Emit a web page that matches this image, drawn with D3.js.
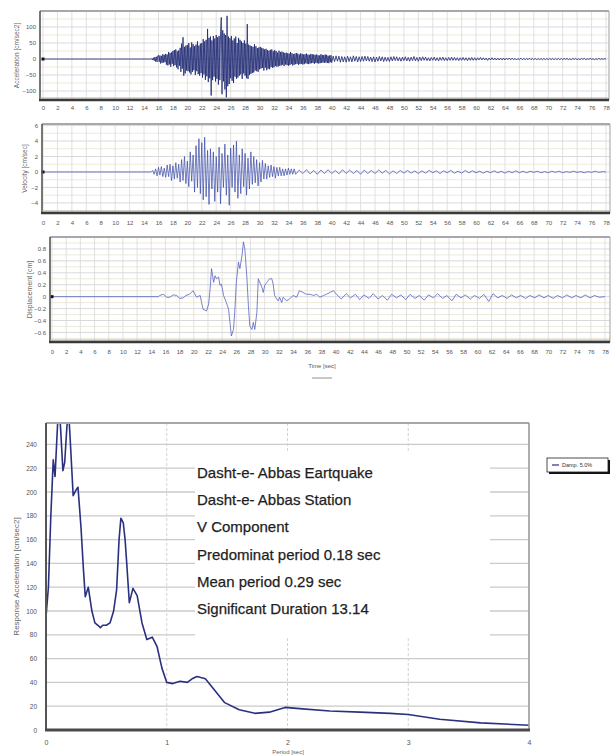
<!DOCTYPE html>
<html>
<head>
<meta charset="utf-8">
<script src="https://cdn.jsdelivr.net/npm/d3@7"></script>
<style>
  html, body { margin: 0; padding: 0; background: #fff; }
  svg { display: block; }
</style>
</head>
<body>
<svg id="chart" width="613" height="756"></svg>
<script>
// ---------------- record data ----------------
// time axis ticks for the three record panels [sec]
const timeTicks = [0, 2, 4, 6, 8, 10, 12, 14, 16, 18, 20, 22, 24, 26, 28, 30, 32, 34, 36, 38,
                   40, 42, 44, 46, 48, 50, 52, 54, 56, 58, 60, 62, 64, 66, 68, 70, 72, 74, 76, 78];

// quiet part of the record before the first arrival [t, value]
const preEvent = [[0, 0], [14.9, 0]];

// acceleration [cm/sec2], strong part: 15.0 s to 40.0 s every 0.1 s
const accStartA = 15.0, accStepA = 0.1;
const accA = [
  0, 2, -3, 4, -5, 6, -8, 7, -9, 10,
  12, -9, 11, -14, 10, -12, 15, -11, 13, -10,
  16, -18, 14, -20, 22, -17, 19, -24, 21, -15,
  25, -22, 28, -19, 30, -26, 24, -32, 27, -21,
  35, -40, 48, -30, 68, -52, 38, -45, 42, -36,
  44, -38, 50, -42, 36, -48, 52, -40, 46, -35,
  40, -50, 45, -38, 55, -47, 42, -52, 48, -44,
  50, -58, 62, -48, 55, -65, 60, -54, 94, -72,
  66, -60, 70, -114, 58, -66, 72, -55, 64, -70,
  75, -62, 68, -80, 72, -66, 85, 130, -110, 90,
  -70, 80, -95, 75, -120, 135, -85, 70, -78, 65,
  -60, 72, -68, 58, -75, 64, -55, 70, -62, 50,
  -58, 66, -52, 60, -48, 55, -62, 50, -45, 58,
  -52, 48, -60, 109, -62, 45, -50, 42, -46, 40,
  -44, 38, -42, 46, -36, 40, -38, 34, -40, 36,
  -32, 38, -30, 35, -28, 33, -36, 30, -27, 32,
  -35, 28, -30, 26, -32, 29, -25, 30, -27, 24,
  -26, 28, -22, 25, -24, 20, -23, 26, -21, 22,
  -20, 23, -18, 21, -22, 19, -17, 20, -19, 18,
  -21, 17, -19, 22, -16, 18, -20, 15, -18, 17,
  -16, 19, -15, 17, -18, 14, -16, 18, -15, 16,
  -17, 14, -16, 15, -13, 17, -15, 14, -16, 13,
  -14, 16, -13, 15, -12, 14, -15, 13, -12, 14,
  -13, 12, -14, 11, -13, 15, -12, 13, -11, 12,
  -12, 14, -11, 13, -12, 10, -13, 11, -10, 12,
  -11
];
// acceleration [cm/sec2], coda: 40.2 s to 78.0 s every 0.2 s
const accStartB = 40.2, accStepB = 0.2;
const accB = [
  9, -8, 10, -7, 9, -10, 8, -9, 7, -10, 9, -8, 7, -9, 10, -7, 8, -9, 7, -8,
  8, -7, 9, -6, 8, -7, 6, -8, 7, -9, 6, -7, 8, -6, 7, -8, 6, -7, 5, -8,
  7, -6, 8, -5, 7, -6, 5, -7, 6, -5, 7, -6, 5, -7, 6, -5, 8, -6, 5, -7,
  6, -5, 7, -4, 6, -5, 4, -6, 5, -4, 6, -5, 4, -6, 5, -4, 6, -5, 4, -5,
  5, -4, 6, -4, 5, -4, 4, -5, 4, -4, 5, -4, 4, -5, 4, -4, 5, -4, 4, -4,
  4, -3, 5, -3, 4, -3, 3, -4, 3, -3, 4, -3, 3, -3, 3, -3, 3, -3, 3, -3,
  3, -2, 3, -2, 3, -2, 2, -3, 2, -2, 3, -2, 2, -2, 2, -2, 3, -2, 2, -2,
  2, -2, 2, -2, 2, -2, 2, -2, 2, -2, 2, -2, 2, -2, 2, -2, 2, -2, 2, -2,
  2, -1, 2, -2, 1, -2, 2, -1, 2, -2, 1, -2, 2, -1, 2, -2, 1, -1, 2, -1,
  1, -2, 1, -1, 2, -1, 1, -1, 1, 0
];

// velocity [cm/sec], strong part: 15.0 s to 35.0 s every 0.2 s
const velStartA = 15.0, velStepA = 0.2;
const velA = [
  0, 0.2, -0.3, 0.4, -0.5, 0.6, -0.4, 0.7, -0.6, 0.5,
  -0.7, 0.9, -0.6, 1.0, -1.1, 0.8, -0.9, 1.2, -0.8, 1.0,
  -1.3, 1.6, -1.1, 2.0, -1.5, 1.4, -1.9, 2.6, -1.2, 2.2,
  -2.6, 3.4, -2.0, 4.3, -2.8, 3.8, -3.6, 4.5, -3.2, 2.8,
  -4.2, 3.0, -2.2, 2.6, -3.8, 2.0, -2.6, 3.2, -4.1, 2.4,
  -2.0, 3.6, -3.0, 2.2, -4.3, 3.1, -2.0, 3.5, -2.6, 4.0,
  -3.4, 2.2, -2.8, 3.0, -1.9, 2.4, -3.0, 1.8, -2.2, 2.6,
  -1.6, 2.0, -1.4, 1.6, -1.8, 1.2, -1.3, 1.5, -0.9, 1.1,
  -0.9, 0.8, -0.7, 0.9, -0.6, 0.7, -0.8, 0.6, -0.5, 0.6,
  -0.5, 0.4, -0.5, 0.4, -0.4, 0.5, -0.3, 0.4, -0.3, 0.4,
  -0.3
];
// velocity [cm/sec], coda: 35.5 s to 78.0 s every 0.5 s
const velStartB = 35.5, velStepB = 0.5;
const velB = [
  0.25, -0.2, 0.3, -0.25, 0.2, -0.3, 0.25, -0.2, 0.3, -0.2,
  0.2, -0.25, 0.3, -0.2, 0.25, -0.2, 0.2, -0.3, 0.25, -0.2,
  0.2, -0.2, 0.25, -0.15, 0.2, -0.25, 0.15, -0.2, 0.2, -0.15,
  0.2, -0.15, 0.15, -0.2, 0.15, -0.15, 0.2, -0.1, 0.15, -0.2,
  0.15, -0.1, 0.2, -0.15, 0.1, -0.15, 0.2, -0.1, 0.15, -0.1,
  0.1, -0.15, 0.1, -0.1, 0.15, -0.1, 0.1, -0.15, 0.1, -0.1,
  0.15, -0.1, 0.1, -0.1, 0.1, -0.05, 0.1, -0.1, 0.05, -0.1,
  0.1, -0.05, 0.1, -0.1, 0.05, -0.05, 0.1, -0.05, 0.05, -0.1,
  0.05, -0.05, 0.1, -0.05, 0.05, 0
];

// displacement [cm] as [t, value]
const displacement = [
  [0, 0], [15.0, 0], [15.2, 0.02], [15.7, 0.04], [16.2, -0.01], [16.6, -0.01], [17.1, 0.03],
  [17.6, 0.02], [18.0, -0.03], [18.5, -0.02], [18.9, 0.02], [19.4, 0.04], [19.9, 0.10],
  [20.4, -0.01], [20.9, 0.02], [21.1, -0.10], [21.3, -0.21], [21.8, -0.24], [22.1, -0.12],
  [22.3, 0.13], [22.5, 0.47], [22.8, 0.24], [23.0, 0.35], [23.2, 0.30], [23.5, 0.33],
  [23.7, 0.19], [23.9, 0.21], [24.2, 0.02], [24.4, -0.04], [24.6, -0.10], [24.9, -0.21],
  [25.1, -0.43], [25.3, -0.66], [25.6, -0.55], [25.8, -0.21], [26.0, 0.24], [26.3, 0.58],
  [26.5, 0.47], [26.8, 0.69], [27.0, 0.92], [27.2, 0.80], [27.5, 0.30], [27.7, -0.15],
  [27.9, -0.49], [28.2, -0.55], [28.4, -0.43], [28.6, -0.55], [28.9, -0.26], [29.1, 0.30],
  [29.3, 0.24], [29.6, 0.16], [29.8, 0.07], [30.0, 0.19], [30.3, 0.24], [30.5, 0.27],
  [30.7, 0.30], [31.0, 0.30], [31.2, 0.21], [31.4, 0.02], [31.7, -0.04], [31.9, -0.07],
  [32.1, -0.01], [32.4, -0.10], [32.6, -0.01], [33.1, -0.07], [33.5, -0.04], [34.0, 0.02],
  [34.5, -0.01], [34.9, 0.10], [35.4, 0.07], [35.9, 0.04], [36.4, 0.04], [36.9, 0.02],
  [37.3, 0.04], [37.8, -0.01], [38.3, 0.02], [38.7, 0.04], [39.2, 0.07], [39.7, 0.10],
  [40.2, 0.03], [40.8, -0.04], [41.5, 0.05], [42.1, -0.02], [42.8, 0.04], [43.4, -0.05],
  [44.0, 0.03], [44.7, -0.03], [45.3, 0.05], [46.0, -0.04], [46.6, 0.02], [47.3, -0.06],
  [47.9, 0.04], [48.6, -0.02], [49.2, 0.03], [49.9, -0.05], [50.5, 0.04], [51.2, -0.03],
  [51.8, 0.02], [52.5, -0.06], [53.1, 0.03], [53.8, -0.02], [54.4, 0.05], [55.1, -0.03],
  [55.7, 0.02], [56.4, -0.07], [57.0, 0.04], [57.7, -0.02], [58.3, 0.03], [59.0, -0.04],
  [59.6, 0.02], [60.3, -0.03], [60.9, 0.04], [61.6, -0.08], [62.2, 0.05], [62.9, -0.02],
  [63.5, 0.02], [64.2, -0.03], [64.8, 0.03], [65.5, -0.02], [66.1, 0.02], [66.8, -0.03],
  [67.4, 0.02], [68.1, -0.02], [68.7, 0.03], [69.4, -0.02], [70.0, 0.02], [70.7, -0.03],
  [71.3, 0.02], [72.0, -0.02], [72.6, 0.03], [73.3, -0.02], [73.9, 0.02], [74.6, -0.02],
  [75.2, 0.03], [75.9, -0.02], [76.5, 0.02], [77.2, -0.01], [78.0, 0.0]
];

const accTicks = [-100, -50, 0, 50, 100];
const velTicks = [-4, -2, 0, 2, 4, 6];
const dispTicks = [-0.6, -0.4, -0.2, 0, 0.2, 0.4, 0.6, 0.8];

// ---------------- response spectrum data ----------------
// [period sec, spectral acceleration cm/sec2], 5 % damping
const spectrum = [
  [0.00, 95], [0.02, 120], [0.04, 180], [0.06, 227], [0.075, 213], [0.09, 245], [0.105, 275],
  [0.12, 255], [0.14, 218], [0.155, 225], [0.17, 250], [0.185, 272], [0.20, 245], [0.225, 197],
  [0.25, 202], [0.265, 204], [0.29, 170], [0.31, 135], [0.325, 112], [0.35, 120], [0.38, 100],
  [0.405, 90], [0.43, 88], [0.45, 86], [0.47, 88], [0.50, 88], [0.53, 90], [0.56, 100],
  [0.585, 118], [0.605, 160], [0.62, 178], [0.64, 174], [0.655, 160], [0.67, 138], [0.69, 107],
  [0.72, 119], [0.755, 113], [0.795, 90], [0.835, 76], [0.88, 78], [0.92, 70], [0.96, 52],
  [1.0, 40], [1.05, 39], [1.11, 41], [1.17, 40], [1.21, 43], [1.25, 45], [1.32, 43], [1.40, 33],
  [1.48, 23], [1.6, 17], [1.73, 14], [1.85, 15], [1.98, 19], [2.1, 18], [2.35, 16], [2.6, 15],
  [2.85, 14], [3.0, 13], [3.26, 9], [3.6, 6], [4.0, 4]
];
const periodTicks = [0, 1, 2, 3, 4];
const saTicks = [0, 20, 40, 60, 80, 100, 120, 140, 160, 180, 200, 220, 240];

const infoLines = [
  "Dasht-e- Abbas Eartquake",
  "Dasht-e- Abbas Station",
  "V Component",
  "Predominat period  0.18 sec",
  "Mean period 0.29 sec",
  "Significant Duration  13.14"
];
const legendLabel = "Damp. 5.0%";

// ---------------- helpers ----------------
const svg = d3.select("#chart");
svg.append("rect").attr("width", 613).attr("height", 756).attr("fill", "#fff");
const FONT = "'Liberation Sans', Arial, sans-serif";

function sampled(start, step, values) {
  return values.map((v, i) => [start + i * step, v]);
}

function styleAxis(sel, size, fill) {
  sel.attr("font-size", size).attr("font-family", FONT);
  sel.select(".domain").remove();
  sel.selectAll(".tick line").remove();
  sel.selectAll("text").attr("fill", fill);
}

function tracePanel(o) {
  const x = d3.scaleLinear().domain([0, 78]).range(o.xRange);
  const y = d3.scaleLinear().domain(o.yDomain).range([o.bottom, o.top]);
  const g = svg.append("g");

  const clipId = "clip-" + o.key;
  svg.append("clipPath").attr("id", clipId).append("rect")
    .attr("x", o.left).attr("y", o.top)
    .attr("width", o.right - o.left).attr("height", o.bottom - o.top);

  // horizontal grid: labelled levels a little darker than the in-between ones
  g.append("g").selectAll("line").data(o.gridY).join("line")
    .attr("x1", o.left).attr("x2", o.right)
    .attr("y1", d => y(d)).attr("y2", d => y(d))
    .attr("stroke", d => o.yTicks.some(t => Math.abs(t - d) < 1e-9) ? "#cfcfcf" : "#e8e5d0")
    .attr("stroke-width", 0.8);
  // vertical grid at each time tick
  g.append("g").selectAll("line").data(timeTicks).join("line")
    .attr("x1", d => x(d)).attr("x2", d => x(d))
    .attr("y1", o.top).attr("y2", o.bottom)
    .attr("stroke", "#d9d9d9").attr("stroke-width", 0.8);

  // trace
  g.append("path").datum(o.points)
    .attr("clip-path", `url(#${clipId})`)
    .attr("fill", "none").attr("stroke", o.color)
    .attr("stroke-width", o.width).attr("stroke-linejoin", "round")
    .attr("d", d3.line().x(d => x(d[0])).y(d => y(d[1])));

  // start-of-record marker
  g.append("rect")
    .attr("x", x(o.points[0][0]) - 1.5).attr("y", y(o.points[0][1]) - 1.5)
    .attr("width", 3).attr("height", 3).attr("fill", "#111");

  // frame
  g.append("line").attr("x1", o.left).attr("x2", o.right).attr("y1", o.top).attr("y2", o.top)
    .attr("stroke", "#a8a8a8").attr("stroke-width", 2);
  g.append("line").attr("x1", o.right).attr("x2", o.right).attr("y1", o.top).attr("y2", o.bottom)
    .attr("stroke", "#b0b0b0").attr("stroke-width", 1.2);
  g.append("line").attr("x1", o.left).attr("x2", o.left).attr("y1", o.top).attr("y2", o.bottom)
    .attr("stroke", "#555").attr("stroke-width", 1.6);
  g.append("line").attr("x1", o.left).attr("x2", o.right).attr("y1", o.bottom - 2).attr("y2", o.bottom - 2)
    .attr("stroke", "#b5b5b5").attr("stroke-width", 1);
  g.append("line").attr("x1", o.left - 1).attr("x2", o.right).attr("y1", o.bottom).attr("y2", o.bottom)
    .attr("stroke", "#3a3a3a").attr("stroke-width", 2.6);

  // axes
  const ya = g.append("g").attr("transform", `translate(${o.left},0)`)
    .call(d3.axisLeft(y).tickValues(o.yTicks).tickSize(0).tickPadding(4).tickFormat(o.yFormat));
  styleAxis(ya, 6, "#555");
  const xa = g.append("g").attr("transform", `translate(0,${o.bottom})`)
    .call(d3.axisBottom(x).tickValues(timeTicks).tickSize(0).tickPadding(o.xPad).tickFormat(d3.format("d")));
  styleAxis(xa, 6, "#555");

  // y title
  g.append("text")
    .attr("transform", `translate(${o.titleX},${(o.top + o.bottom) / 2}) rotate(-90)`)
    .attr("text-anchor", "middle").attr("font-family", FONT)
    .attr("font-size", o.titleSize).attr("fill", "#666")
    .text(o.title);
  return { x, y };
}

// ---------------- record panels ----------------
tracePanel({
  key: "acc", left: 40, right: 609, top: 11, bottom: 100, xRange: [43, 606],
  yDomain: [-128, 150], yTicks: accTicks, yFormat: d3.format("d"),
  gridY: [-125, -100, -75, -50, -25, 0, 25, 50, 75, 100, 125],
  points: preEvent.concat(sampled(accStartA, accStepA, accA), sampled(accStartB, accStepB, accB)),
  color: "#1b2470", width: 0.8, xPad: 6,
  title: "Acceleration [cm/sec2]", titleX: 19, titleSize: 6.5
});

tracePanel({
  key: "vel", left: 42, right: 610, top: 124, bottom: 213, xRange: [43, 606],
  yDomain: [-5.3, 6.2], yTicks: velTicks, yFormat: d3.format("d"),
  gridY: [-5, -4, -3, -2, -1, 0, 1, 2, 3, 4, 5, 6],
  points: preEvent.concat(sampled(velStartA, velStepA, velA), sampled(velStartB, velStepB, velB)),
  color: "#3848a8", width: 0.7, xPad: 8,
  title: "Velocity [cm/sec]", titleX: 27, titleSize: 6.5
});

tracePanel({
  key: "disp", left: 50, right: 610, top: 237, bottom: 342, xRange: [52, 605],
  yDomain: [-0.76, 1.0], yTicks: dispTicks, yFormat: d => d === 0 ? "0" : d3.format(".1f")(d),
  gridY: [-0.7, -0.6, -0.5, -0.4, -0.3, -0.2, -0.1, 0, 0.1, 0.2, 0.3, 0.4, 0.5, 0.6, 0.7, 0.8, 0.9],
  points: displacement,
  color: "#5563bf", width: 0.8, xPad: 8,
  title: "Displacement [cm]", titleX: 32, titleSize: 7
});

// time axis title and its small key line
svg.append("text").attr("x", 322).attr("y", 368).attr("text-anchor", "middle")
  .attr("font-family", FONT).attr("font-size", 6).attr("fill", "#555").text("Time [sec]");
svg.append("line").attr("x1", 312).attr("x2", 332).attr("y1", 378).attr("y2", 378)
  .attr("stroke", "#777").attr("stroke-width", 0.8);

// ---------------- response spectrum ----------------
(function () {
  const L = 46, R = 529, T = 423, B = 730;
  const x = d3.scaleLinear().domain([0, 4]).range([L, R]);
  const y = d3.scaleLinear().domain([0, 258]).range([B, T]);
  const g = svg.append("g");

  svg.append("clipPath").attr("id", "clip-sa").append("rect")
    .attr("x", L).attr("y", T).attr("width", R - L).attr("height", B - T);

  // grid
  g.append("g").selectAll("line").data(saTicks.filter(d => d > 0)).join("line")
    .attr("x1", L).attr("x2", R).attr("y1", d => y(d)).attr("y2", d => y(d))
    .attr("stroke", "#cacaca").attr("stroke-width", 1.3);
  g.append("g").selectAll("line").data(periodTicks.filter(d => d > 0 && d < 4)).join("line")
    .attr("x1", d => x(d)).attr("x2", d => x(d)).attr("y1", T).attr("y2", B)
    .attr("stroke", "#d2d2d2").attr("stroke-width", 1).attr("stroke-dasharray", "3,2");

  // white panel behind the record description
  g.append("rect").attr("x", 195).attr("y", 453).attr("width", 295).attr("height", 185)
    .attr("fill", "#fff");

  // spectrum curve
  g.append("path").datum(spectrum)
    .attr("clip-path", "url(#clip-sa)")
    .attr("fill", "none").attr("stroke", "#2a3080").attr("stroke-width", 1.6)
    .attr("stroke-linejoin", "round")
    .attr("d", d3.line().x(d => x(d[0])).y(d => y(d[1])));

  // frame
  g.append("line").attr("x1", L).attr("x2", R).attr("y1", T).attr("y2", T)
    .attr("stroke", "#a6a6a6").attr("stroke-width", 2);
  g.append("line").attr("x1", R).attr("x2", R).attr("y1", T).attr("y2", B)
    .attr("stroke", "#9a9a9a").attr("stroke-width", 1.6);
  g.append("line").attr("x1", L).attr("x2", L).attr("y1", T).attr("y2", B)
    .attr("stroke", "#555").attr("stroke-width", 2);
  g.append("line").attr("x1", L - 1).attr("x2", R + 1).attr("y1", B).attr("y2", B)
    .attr("stroke", "#4a4a4a").attr("stroke-width", 3);

  // axes
  const ya = g.append("g").attr("transform", `translate(${L},0)`)
    .call(d3.axisLeft(y).tickValues(saTicks).tickSize(0).tickPadding(9).tickFormat(d3.format("d")));
  styleAxis(ya, 6.5, "#555");
  const xa = g.append("g").attr("transform", `translate(0,${B})`)
    .call(d3.axisBottom(x).tickValues(periodTicks).tickSize(0).tickPadding(10).tickFormat(d3.format("d")));
  styleAxis(xa, 7, "#555");

  g.append("text")
    .attr("transform", `translate(19,${(T + B) / 2}) rotate(-90)`)
    .attr("text-anchor", "middle").attr("font-family", FONT)
    .attr("font-size", 8).attr("fill", "#666")
    .text("Response Acceleration [cm/sec2]");
  g.append("text").attr("x", 288).attr("y", 754).attr("text-anchor", "middle")
    .attr("font-family", FONT).attr("font-size", 6).attr("fill", "#666")
    .text("Period [sec]");

  // record description
  g.append("g").selectAll("text").data(infoLines).join("text")
    .attr("x", 197).attr("y", (d, i) => 478 + i * 27.2)
    .attr("font-family", FONT).attr("font-size", 15).attr("fill", "#1e1e1e")
    .attr("stroke", "#1e1e1e").attr("stroke-width", 0.25)
    .text(d => d);

  // legend with drop shadow
  const lg = svg.append("g").attr("transform", "translate(547,458)");
  lg.append("rect").attr("x", 2).attr("y", 2).attr("width", 61).attr("height", 14).attr("fill", "#111");
  lg.append("rect").attr("x", 0).attr("y", 0).attr("width", 61).attr("height", 14)
    .attr("fill", "#fff").attr("stroke", "#222").attr("stroke-width", 0.8);
  lg.append("line").attr("x1", 5).attr("x2", 12).attr("y1", 7).attr("y2", 7)
    .attr("stroke", "#2a3080").attr("stroke-width", 1.2);
  lg.append("text").attr("x", 15).attr("y", 9).attr("font-family", FONT)
    .attr("font-size", 5.5).attr("fill", "#333").text(legendLabel);
})();
</script>
</body>
</html>
